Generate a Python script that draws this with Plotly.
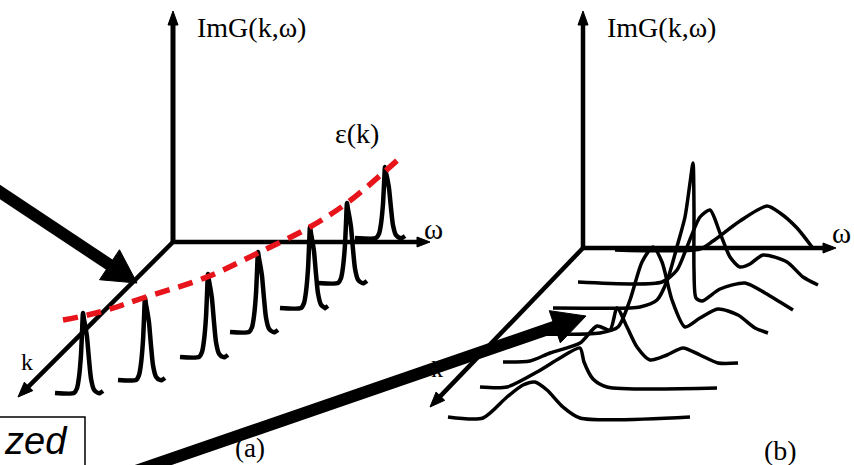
import numpy as np
import plotly.graph_objects as go

W, H = 854, 465
INK = "black"
SERIF = "Liberation Serif, Times New Roman, serif"

# ---------------- panel (a): sharp quasiparticle peaks along epsilon(k) ----------------
qp_center = [83, 145, 208, 258, 310, 347, 385]
qp_base = [393, 380, 357, 332, 308, 283, 238]
qp_top = [313, 298, 274, 252, 227, 203, 167]
qp_left = [55, 118, 180, 230, 280, 318, 355]
qp_right = [103, 165, 228, 278, 328, 367, 405]

# peak lineshape: offset from the centre (px) and fraction of the peak height
shape_dx = [-9, -6, -4, -2, -1, 0, 1, 2.5, 4, 6, 8, 11, 15]
shape_frac = [0, 0.06, 0.2, 0.48, 0.75, 1.0, 0.92, 0.82, 0.7, 0.42, 0.18, 0.04, 0]

# dispersion epsilon(k) through the peak maxima
eps_x = [63, 100, 143, 207, 260, 310, 347, 383, 402]
eps_y = [320, 312, 298, 277, 252, 227, 203, 173, 156]

# ---------------- panel (b): broad, incoherent spectra ----------------
spec_b = [
    # back curve, sitting on the omega axis
    [(615, 250), (700, 249), (713, 241), (740, 221), (767, 206), (780, 213),
     (797, 228), (812, 247)],
    [(578, 282), (662, 282), (677, 270), (687, 247), (700, 217), (710, 210),
     (720, 233), (730, 257), (740, 267), (750, 264), (763, 255), (787, 262),
     (803, 277), (818, 285)],
    [(553, 308), (630, 308), (640, 307), (657, 300), (667, 281), (678, 243),
     (685, 217), (690, 183), (693, 163), (694, 210), (694, 270), (696, 298),
     (702, 301), (720, 289), (745, 283), (765, 293), (780, 302), (793, 310)],
    [(522, 334), (600, 333), (618, 327), (630, 300), (642, 262), (653, 247),
     (662, 262), (672, 300), (685, 327), (700, 318), (718, 309), (738, 315),
     (755, 328), (768, 333)],
    [(503, 362), (530, 361), (550, 353), (580, 343), (597, 326), (610, 330),
     (617, 308), (627, 327), (637, 347), (650, 360), (667, 355), (683, 348),
     (700, 355), (718, 363), (738, 363)],
    [(480, 387), (507, 387), (537, 372), (560, 358), (580, 348), (584, 362),
     (593, 379), (607, 387), (717, 388)],
    # front curve
    [(448, 417), (483, 418), (507, 397), (523, 385), (535, 382), (547, 390),
     (563, 407), (580, 418), (690, 417)],
]

fig = go.Figure()


def line(xs, ys, width, color=INK, dash=None, shape="linear", smoothing=1.0):
    ln = dict(color=color, width=width)
    if dash:
        ln["dash"] = dash
    if shape == "spline":
        ln["shape"] = "spline"
        ln["smoothing"] = smoothing
    fig.add_trace(go.Scatter(x=list(xs), y=list(ys), mode="lines", line=ln,
                             hoverinfo="skip"))


def polygon(xs, ys, color=INK):
    fig.add_trace(go.Scatter(x=list(xs) + [xs[0]], y=list(ys) + [ys[0]],
                             mode="lines", fill="toself", fillcolor=color,
                             line=dict(color=color, width=1), hoverinfo="skip"))


def arrow(x0, y0, x1, y1, width, head_len, head_half):
    d = np.array([x1 - x0, y1 - y0], float)
    u = d / np.hypot(*d)
    n = np.array([-u[1], u[0]])
    tip = np.array([x1, y1], float)
    base = tip - u * head_len
    stop = tip - u * head_len * 0.7
    line([x0, stop[0]], [y0, stop[1]], width)
    a = base + n * head_half
    b = base - n * head_half
    polygon([tip[0], a[0], b[0]], [tip[1], a[1], b[1]])


# axes of panel (a)
arrow(173, 243, 173, 11, 5, 14, 5)
arrow(171, 242, 430, 242, 4.5, 13, 5)
arrow(173, 242, 18, 397, 4.5, 15, 6)

# axes of panel (b)
arrow(583, 248, 583, 11, 4.5, 14, 5)
arrow(581, 248, 836, 248, 4.5, 13, 5)
arrow(583, 248, 430, 407, 4.5, 15, 6)

# quasiparticle peaks
for c, b0, t, xl, xr in zip(qp_center, qp_base, qp_top, qp_left, qp_right):
    h = b0 - t
    xs = [xl] + [c + dx for dx in shape_dx] + [xr - 3, xr]
    ys = [b0] + [b0 - f * h for f in shape_frac] + [b0, b0 - 2]
    line(xs, ys, 4.5, shape="spline", smoothing=0.6)

# dispersion
line(eps_x, eps_y, 5.5, color="#e8141c", dash="15px,9px", shape="spline")

# spectra of panel (b)
for pts in spec_b:
    xs, ys = zip(*pts)
    line(xs, ys, 3.5, shape="spline", smoothing=0.7)

# pointer arrows
arrow(-6, 188, 137, 283, 12, 33, 18)
arrow(130, 473, 586, 316, 12, 33, 17)

# boxed caption at the lower left
line([-5, 85, 85], [417, 417, 470], 1.5)

annotations = [
    dict(x=251, y=27, text="ImG(k,ω)", size=28),
    dict(x=661, y=27, text="ImG(k,ω)", size=28),
    dict(x=357, y=133, text="ε(k)", size=28),
    dict(x=433, y=229, text="ω", size=29),
    dict(x=841, y=233, text="ω", size=29),
    dict(x=27, y=362, text="k", size=24),
    dict(x=437, y=369, text="k", size=24),
    dict(x=250, y=448, text="(a)", size=27),
    dict(x=780, y=450, text="(b)", size=28),
]
fig.update_layout(annotations=[
    dict(x=a["x"], y=a["y"], xref="x", yref="y", text=a["text"],
         showarrow=False, xanchor="center", yanchor="middle",
         font=dict(family=SERIF, size=a["size"], color=INK))
    for a in annotations
])
fig.add_annotation(x=70, y=441, xref="x", yref="y", text="<i>zed</i>",
                   showarrow=False, xanchor="right", yanchor="middle",
                   font=dict(family="Liberation Sans, Arial, sans-serif",
                             size=38, color=INK))

fig.update_layout(
    width=W, height=H,
    margin=dict(l=0, r=0, t=0, b=0),
    paper_bgcolor="white", plot_bgcolor="white",
    showlegend=False,
    xaxis=dict(range=[0, W], visible=False, fixedrange=True),
    yaxis=dict(range=[H, 0], visible=False, fixedrange=True),
)

fig.write_html("out.html")
